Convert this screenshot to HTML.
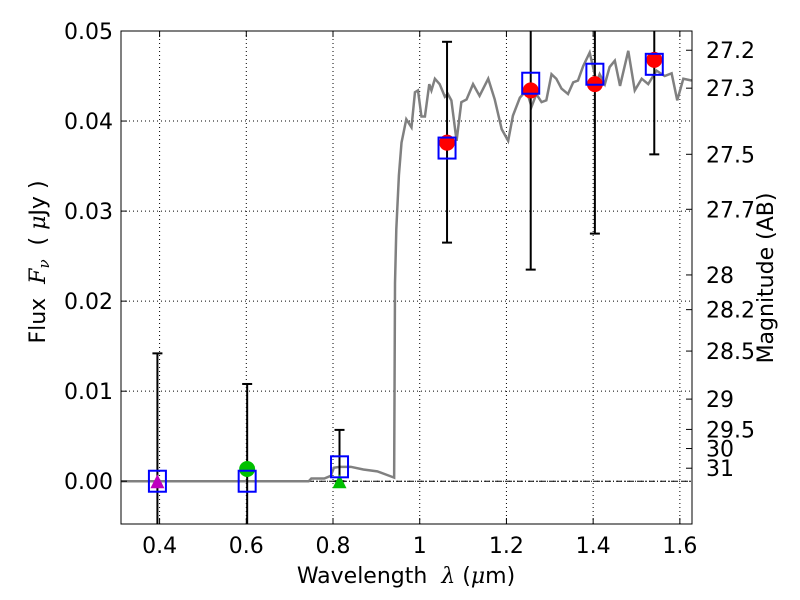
<!DOCTYPE html>
<html><head><meta charset="utf-8"><style>body{margin:0;background:#fff}svg{display:block;font-family:"DejaVu Sans","Liberation Sans",sans-serif}</style></head>
<body>
<svg id="c" width="800" height="600"></svg>
<script>
const xTicks=[0.4,0.6,0.8,1.0,1.2,1.4,1.6];
const xTickLabels=["0.4","0.6","0.8","1","1.2","1.4","1.6"];
const yTicks=[0,0.01,0.02,0.03,0.04,0.05];
const yTickLabels=["0.00","0.01","0.02","0.03","0.04","0.05"];
const magTicks=[27.2,27.3,27.5,27.7,28,28.2,28.5,29,29.5,30,31];
const magLabels=["27.2","27.3","27.5","27.7","28","28.2","28.5","29","29.5","30","31"];
const specW=[0.311,0.744,0.75,0.78,0.795,0.802,0.815,0.841,0.87,0.902,0.941,0.943,0.946,0.952,0.958,0.969,0.981,0.989,0.996,1.004,1.012,1.022,1.027,1.035,1.046,1.058,1.065,1.073,1.085,1.096,1.108,1.123,1.138,1.158,1.173,1.189,1.204,1.215,1.231,1.246,1.258,1.269,1.281,1.292,1.304,1.315,1.327,1.342,1.354,1.365,1.377,1.392,1.408,1.415,1.427,1.438,1.45,1.462,1.481,1.496,1.512,1.527,1.546,1.565,1.581,1.594,1.608,1.627];
const specF=[0,0,0.0003,0.0003,0.0006,0.0015,0.0016,0.0016,0.0013,0.0011,0.0004,0.022,0.028,0.034,0.0376,0.0402,0.0393,0.0432,0.0434,0.0405,0.0405,0.0441,0.0434,0.0447,0.0441,0.0427,0.043,0.0423,0.0378,0.0421,0.0424,0.0441,0.0428,0.0447,0.0424,0.0391,0.0378,0.0406,0.0426,0.0434,0.0416,0.043,0.0421,0.0423,0.0452,0.0447,0.0436,0.043,0.0443,0.0445,0.0461,0.0476,0.0443,0.0452,0.0441,0.046,0.0467,0.0439,0.0478,0.0434,0.0447,0.0441,0.0456,0.045,0.0453,0.0423,0.0447,0.0445];
const bandW=[0.395,0.602,0.815,1.063,1.256,1.404,1.541];
const modelF=[0.0000,0.0000,0.0016,0.0370,0.0442,0.0452,0.0463];
const obsF=[0.0000,0.00136,0.0000,0.0376,0.0434,0.0441,0.0468];
const errLo=[-0.01,-0.01,0.0,0.0265,0.0235,0.0275,0.0363];
const errHi=[0.0142,0.0108,0.0057,0.0488,0.06,0.06,0.06];
const obsKind=["tri-m","circ-g","tri-g","circ-r","circ-r","circ-r","circ-r"];

const L=121,R=692,T=31,B=524,X0=0.311,X1=1.628,Y0=-0.00475,Y1=0.05;
const sx=v=>L+(v-X0)/(X1-X0)*(R-L);
const sy=v=>B-(v-Y0)/(Y1-Y0)*(B-T);
const ns="http://www.w3.org/2000/svg",svg=document.getElementById('c');
function mk(t,a,p){const e=document.createElementNS(ns,t);for(const k in a)e.setAttribute(k,a[k]);(p||svg).appendChild(e);return e;}
const defs=mk('defs',{});const cp=mk('clipPath',{id:'cp'},defs);mk('rect',{x:L,y:T,width:R-L,height:B-T},cp);
const g=mk('g',{'clip-path':'url(#cp)'});
xTicks.forEach((v,i)=>{const l=mk('line',{x1:sx(v),x2:sx(v),y1:T,y2:B,stroke:'#000','stroke-width':1,'stroke-dasharray':'1,3'},g);
});
yTicks.forEach((v,i)=>{const l=mk('line',{x1:L,x2:R,y1:sy(v),y2:sy(v),stroke:'#000','stroke-width':1,'stroke-dasharray':'1,3'},g);
});
const zl=mk('line',{x1:L,x2:R,y1:sy(0),y2:sy(0),stroke:'#000','stroke-width':1,'stroke-dasharray':'6,2,1,2'},g);

const sp=mk('polyline',{points:specW.map((w,i)=>sx(w)+','+sy(specF[i])).join(' '),fill:'none',stroke:'#808080','stroke-width':2.5},g);

bandW.forEach((w,i)=>{const x=sx(w);
 const e=mk('line',{x1:x,x2:x,y1:sy(errHi[i]),y2:sy(errLo[i]),stroke:'#000','stroke-width':2},g);
 
 [errHi[i],errLo[i]].forEach(v=>{const c=mk('line',{x1:x-5,x2:x+5,y1:sy(v),y2:sy(v),stroke:'#000','stroke-width':2},g);
 });
 const k=obsKind[i],y=sy(obsF[i]);let m;
 if(k.startsWith('tri')){m=mk('polygon',{points:`${x-7},${y+7} ${x+7},${y+7} ${x},${y-7}`,fill:k=='tri-m'?'#bf00bf':'#00bf00'},g);}
 else{m=mk('circle',{cx:x,cy:y,r:8,fill:k=='circ-g'?'#00c000':'#ff0000'},g);}
 
 const s=mk('rect',{x:x-8.5,y:sy(modelF[i])-10.5,width:17,height:21,fill:'none',stroke:'#0000ff','stroke-width':2},g);
 
});
const fr=mk('rect',{x:L,y:T,width:R-L,height:B-T,fill:'none',stroke:'#000','stroke-width':1});

xTicks.forEach((v,i)=>{const x=sx(v);mk('line',{x1:x,x2:x,y1:B,y2:B-6,stroke:'#000'});mk('line',{x1:x,x2:x,y1:T,y2:T+6,stroke:'#000'});
 const t=mk('text',{x:x,y:B+29,'text-anchor':'middle','font-size':22});t.textContent=xTickLabels[i];
 });
yTicks.forEach((v,i)=>{const y=sy(v);mk('line',{x1:L,x2:L+6,y1:y,y2:y,stroke:'#000'});
 const t=mk('text',{x:L-8,y:y+8,'text-anchor':'end','font-size':22});t.textContent=yTickLabels[i];
 });
magTicks.forEach((m,i)=>{const y=sy(Math.pow(10,(23.9-m)/2.5));mk('line',{x1:R,x2:R-6,y1:y,y2:y,stroke:'#000'});
 const t=mk('text',{x:R+14,y:y+8,'font-size':22});t.textContent=magLabels[i];
 });
const xl=mk('text',{x:406,y:583,'text-anchor':'middle','font-size':22});xl.innerHTML='Wavelength &#160;<tspan font-style="italic" font-family="DejaVu Serif,serif">λ</tspan> (<tspan font-style="italic" font-family="DejaVu Serif,serif">μ</tspan>m)';

const yl=mk('text',{x:0,y:0,'text-anchor':'middle','font-size':22,transform:'translate(45,262) rotate(-90)'});yl.innerHTML='Flux &#160;<tspan font-style="italic" font-family="DejaVu Serif,serif">F<tspan font-size="15" dy="4">ν</tspan></tspan><tspan dy="-4"> &#160;( </tspan><tspan font-style="italic" font-family="DejaVu Serif,serif">μ</tspan>Jy )';

const rl=mk('text',{x:0,y:0,'text-anchor':'middle','font-size':22,transform:'translate(773,278) rotate(-90)'});rl.textContent='Magnitude (AB)';

</script>
</body></html>
